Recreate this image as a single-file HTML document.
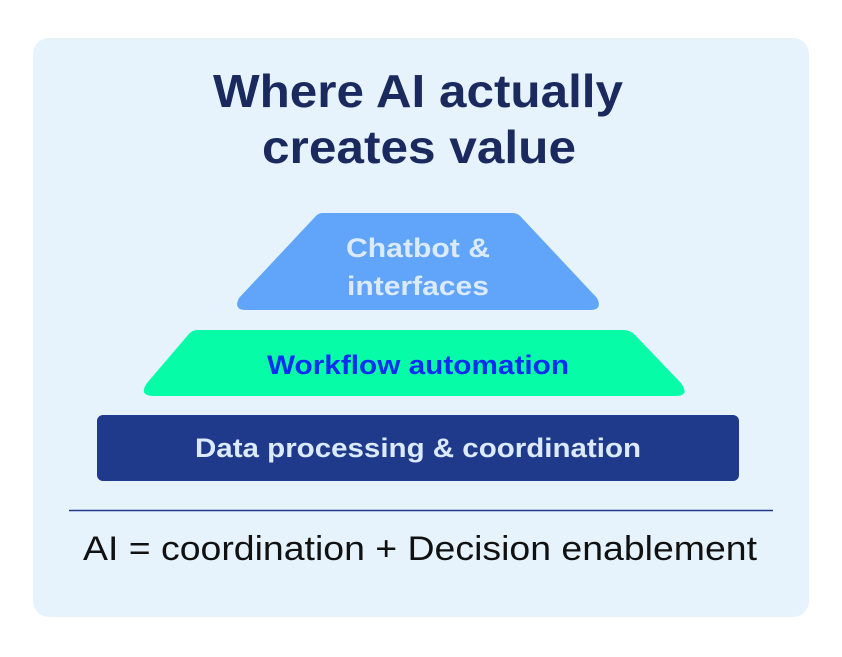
<!DOCTYPE html>
<html><head><style>
html,body{margin:0;padding:0;background:#fff;width:842px;height:657px;overflow:hidden}
</style></head><body>
<svg width="842" height="657" xmlns="http://www.w3.org/2000/svg" style="display:block">
<rect x="33" y="38" width="776" height="579" rx="16" fill="#e6f3fd"/>
<g font-family="Liberation Sans, sans-serif" font-weight="bold" fill="#1b2a5e" font-size="46">
<text x="418" y="107" text-anchor="middle" textLength="410" lengthAdjust="spacingAndGlyphs">Where AI actually</text>
<text x="419" y="163" text-anchor="middle" textLength="314" lengthAdjust="spacingAndGlyphs">creates value</text>
</g>
<path d="M322 213 L513 213 Q518 213 522 218 L597 298 Q603 310 590 310 L246 310 Q233 310 239 298 L314 218 Q318 213 322 213 Z" fill="#60a5f9"/>
<path d="M197 330 L624 330 Q630 330 635 335 L681 383 Q690 396 676 396 L154 396 Q138 396 147 383 L188 335 Q192 330 197 330 Z" fill="#07fca8"/>
<rect x="97" y="415" width="642" height="66" rx="6" fill="#1f3a8a"/>
<g font-family="Liberation Sans, sans-serif" font-weight="bold" font-size="27" text-anchor="middle">
<text x="418" y="257" fill="#dbeafe" textLength="144" lengthAdjust="spacingAndGlyphs">Chatbot &amp;</text>
<text x="418" y="295" fill="#dbeafe" textLength="142" lengthAdjust="spacingAndGlyphs">interfaces</text>
<text x="418" y="374" fill="#0a2ff0" textLength="302" lengthAdjust="spacingAndGlyphs">Workflow automation</text>
<text x="418" y="457" fill="#dbeafe" textLength="446" lengthAdjust="spacingAndGlyphs">Data processing &amp; coordination</text>
</g>
<line x1="69" y1="510.5" x2="773" y2="510.5" stroke="#1f3a8a" stroke-width="1.5"/>
<text x="420" y="560" text-anchor="middle" font-family="Liberation Sans, sans-serif" font-size="34" fill="#111" textLength="674" lengthAdjust="spacingAndGlyphs">AI = coordination + Decision enablement</text>
</svg>
</body></html>
